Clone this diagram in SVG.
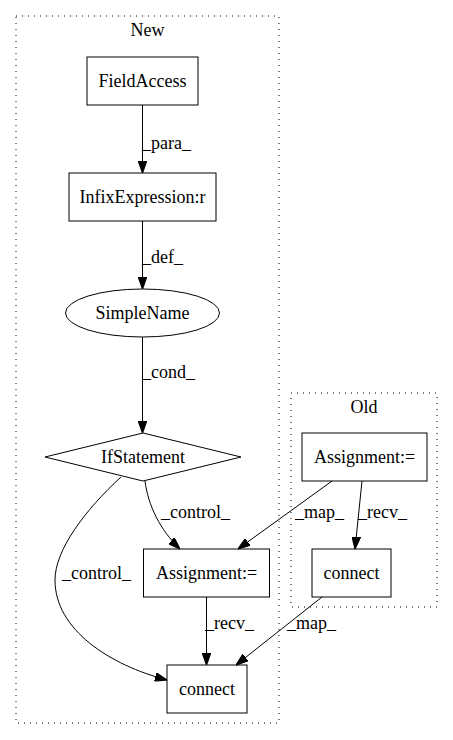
<svg xmlns="http://www.w3.org/2000/svg" width="453" height="740" viewBox="0 0 453 740">
<defs>
<style>
.c{text-anchor:middle}
.n{fill:none;stroke:#000;stroke-width:1}
.cl{fill:none;stroke:#000;stroke-width:1;stroke-dasharray:1,5}
.e{fill:none;stroke:#000;stroke-width:1}
</style>
<marker id="a" viewBox="0 0 10 7" refX="10" refY="3.5" markerWidth="12" markerHeight="9" markerUnits="userSpaceOnUse" orient="auto">
<path d="M0,0 L10,3.5 L0,7 Z" fill="#000" stroke="#000"/>
</marker>
</defs>
<rect width="453" height="740" fill="#fff"/>
<g font-family="'Liberation Serif', 'Times New Roman', serif" font-size="18" fill="#000">
<g id="cluster_new">
<rect class="cl" x="16" y="16" width="263" height="707"/>
<text class="c" x="147.5" y="36">New</text>
</g>
<g id="cluster_old">
<rect class="cl" x="291" y="393" width="146" height="214"/>
<text class="c" x="364" y="413">Old</text>
</g>
<g id="edges">
<path class="e" d="M142.5,105 L142.5,173" marker-end="url(#a)"/>
<text x="142" y="149">_para_</text>
<path class="e" d="M142.5,221 L142.5,289" marker-end="url(#a)"/>
<text x="142" y="263">_def_</text>
<path class="e" d="M142.5,337 L142.5,433" marker-end="url(#a)"/>
<text x="142" y="378">_cond_</text>
<path class="e" d="M145,481 C148,505 160,530 180,549" marker-end="url(#a)"/>
<text x="161" y="518">_control_</text>
<path class="e" d="M121,477 C85,510 55,550 55,580 C55,630 110,665 167,680" marker-end="url(#a)"/>
<text x="62" y="579">_control_</text>
<path class="e" d="M332,481 L238,549" marker-end="url(#a)"/>
<text x="295" y="518">_map_</text>
<path class="e" d="M362,481 L355,549" marker-end="url(#a)"/>
<text x="358" y="518">_recv_</text>
<path class="e" d="M206.5,597 L206.5,665" marker-end="url(#a)"/>
<text x="205" y="629">_recv_</text>
<path class="e" d="M322,597 L236,665" marker-end="url(#a)"/>
<text x="287" y="629">_map_</text>
</g>
<g id="FieldAccess">
<rect class="n" x="87" y="57" width="111" height="48"/>
<text class="c" x="142.5" y="87">FieldAccess</text>
</g>
<g id="InfixExpression">
<rect class="n" x="69" y="173" width="147" height="48"/>
<text class="c" x="142.5" y="203">InfixExpression:r</text>
</g>
<g id="SimpleName">
<ellipse class="n" cx="142.5" cy="313" rx="77" ry="24"/>
<text class="c" x="142.5" y="319">SimpleName</text>
</g>
<g id="IfStatement">
<polygon class="n" points="143,433 241,457 143,481 45,457"/>
<text class="c" x="143" y="463">IfStatement</text>
</g>
<g id="AssignmentNew">
<rect class="n" x="143.5" y="549" width="126" height="48"/>
<text class="c" x="206.5" y="579">Assignment:=</text>
</g>
<g id="connectNew">
<rect class="n" x="167" y="665" width="80" height="48"/>
<text class="c" x="207" y="695">connect</text>
</g>
<g id="AssignmentOld">
<rect class="n" x="302" y="433" width="125" height="48"/>
<text class="c" x="364.5" y="463">Assignment:=</text>
</g>
<g id="connectOld">
<rect class="n" x="312" y="549" width="79" height="48"/>
<text class="c" x="351.5" y="579">connect</text>
</g>
</g>
</svg>
